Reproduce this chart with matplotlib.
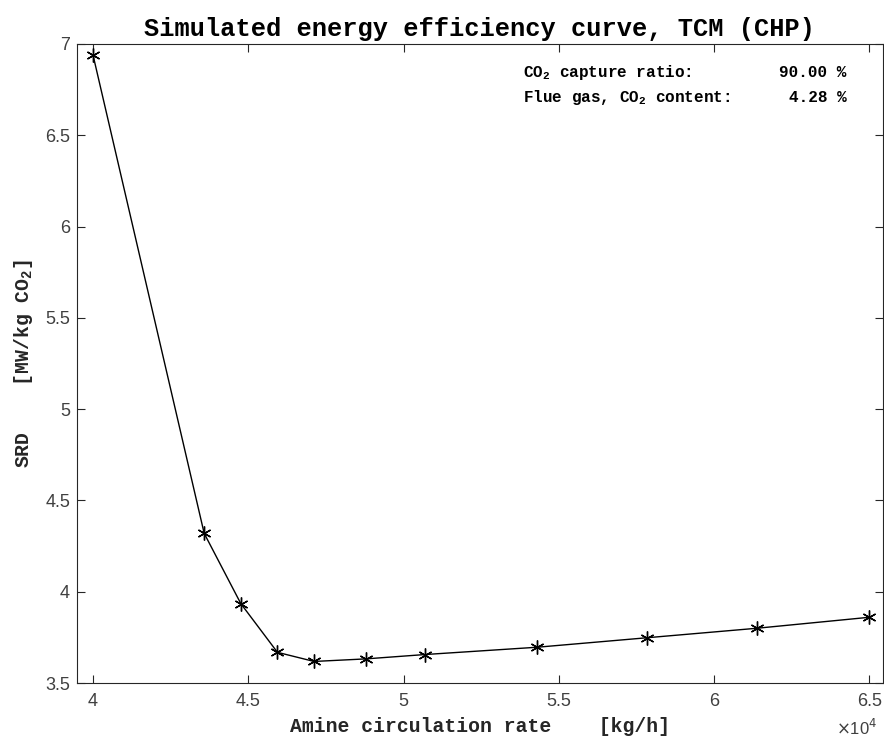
import matplotlib
matplotlib.use("Agg")
import matplotlib.pyplot as plt
from matplotlib.ticker import FuncFormatter

# Данные кривой
amine_rate = [40000, 43580, 44760, 45940, 47120, 48780, 50700, 54310, 57850, 61390, 65000]
srd = [6.94, 4.32, 3.935, 3.668, 3.618, 3.632, 3.656, 3.696, 3.748, 3.800, 3.860]
capture_ratio = 90.00
flue_co2 = 4.28

plt.rcParams['mathtext.fontset'] = 'custom'
plt.rcParams['mathtext.rm'] = 'Liberation Mono:bold'
plt.rcParams['mathtext.it'] = 'Liberation Mono:bold'
plt.rcParams['mathtext.bf'] = 'Liberation Mono:bold'

mono = dict(family='Liberation Mono', weight='bold')
axc = '#262626'
labc = '#404040'

fig = plt.figure(figsize=(8.84, 7.42), dpi=100)
ax = fig.add_axes([77 / 884, 59 / 742, 806 / 884, 639 / 742])

# звёздочки как в MATLAB
ax.plot(amine_rate, srd, color='black', lw=1.0, marker=(6, 2, 0), markersize=10,
        markeredgewidth=1.0)

ax.set_xlim(39485, 65441)
ax.set_ylim(3.5, 7)
ax.set_xticks([40000, 45000, 50000, 55000, 60000, 65000])
ax.set_yticks([3.5, 4, 4.5, 5, 5.5, 6, 6.5, 7])
ax.xaxis.set_major_formatter(FuncFormatter(lambda v, p: f"{v / 1e4:g}"))
ax.yaxis.set_major_formatter(FuncFormatter(lambda v, p: f"{v:g}"))

ax.tick_params(direction='in', length=6, width=0.8, top=True, right=True,
               color=axc, labelcolor=labc, labelsize=13)
ax.tick_params(axis='x', pad=7)
ax.tick_params(axis='y', pad=5)
for lab in ax.get_xticklabels() + ax.get_yticklabels():
    lab.set_family('Liberation Sans')
for s in ax.spines.values():
    s.set_color(axc)
    s.set_linewidth(0.8)

ax.set_title("Simulated energy efficiency curve, TCM (CHP)", fontsize=18.3,
             pad=6, **mono)
ax.set_xlabel("Amine circulation rate    [kg/h]", fontsize=14.2, labelpad=5,
              color=axc, **mono)
ax.set_ylabel("SRD    [MW/kg CO$_2$]", fontsize=14.2, labelpad=7,
              color=axc, **mono)

ax.text(0.993, -0.086, r"$\times$10$^4$", transform=ax.transAxes, ha='right',
        va='bottom', fontsize=12, color=labc, family='Liberation Sans',
        math_fontfamily='dejavusans')

ax.text(0.553, 0.956, "CO$_2$ capture ratio:", transform=ax.transAxes,
        fontsize=11.5, va='center', **mono)
ax.text(0.955, 0.956, f"{capture_ratio:.2f} %", transform=ax.transAxes,
        fontsize=11.5, va='center', ha='right', **mono)
ax.text(0.553, 0.917, "Flue gas, CO$_2$ content:", transform=ax.transAxes,
        fontsize=11.5, va='center', **mono)
ax.text(0.955, 0.917, f"{flue_co2:.2f} %", transform=ax.transAxes,
        fontsize=11.5, va='center', ha='right', **mono)

fig.savefig("out.png", dpi=100)
